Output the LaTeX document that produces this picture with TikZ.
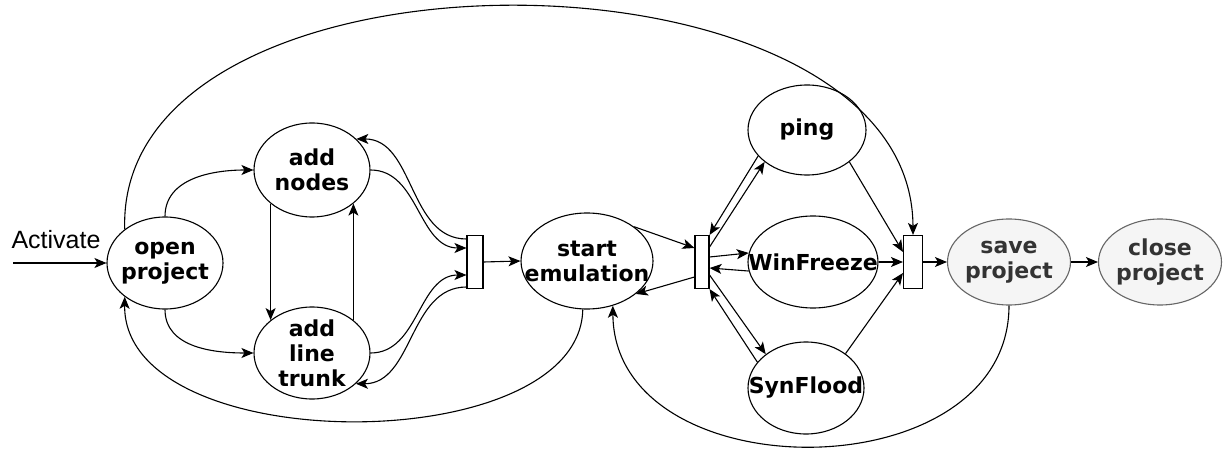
\documentclass[tikz,border=0pt]{standalone}
\usepackage{fontspec}
\usepackage{tikz}
\usepackage{xcolor}
\usetikzlibrary{shapes.geometric,arrows.meta}
\setmainfont{DejaVu Sans}
\newfontfamily\activatefont{Liberation Sans}
\definecolor{save-fill}{HTML}{F5F5F5}
\definecolor{save-draw}{HTML}{666666}
\definecolor{save-text}{HTML}{333333}
\tikzset{
    state-node/.style = {draw, ellipse, line width=1.1pt, inner sep=0pt, minimum width=116pt, minimum height=92pt},
    state-text/.style = {font=\fontsize{22}{25}\selectfont\bfseries, align=center, inner sep=0pt},
    end-node/.style = {state-node, draw=save-draw, fill=save-fill, minimum width=123pt, minimum height=86pt},
    end-text/.style = {state-text, text=save-text},
    bar-node/.style = {draw, rectangle, line width=1.1pt, inner sep=0pt, minimum width=15pt, minimum height=53pt},
    arrow-line/.style = {line width=1.1pt, -{Stealth[length=12pt, width=10pt, inset=3pt]}},
}

\begin{document}
\begin{tikzpicture}[x=1pt, y=-1pt]
\useasboundingbox (0,0) rectangle (1225,454);
% states
\node[state-node, label={[state-text]center:open\\project}] (open) at (165,263) {};
\node[state-node, minimum height=94pt, label={[state-text]center:add\\nodes}] (addn) at (312,170) {};
\node[state-node, label={[state-text]center:add\\line\\trunk}] (addl) at (312,353) {};
\node[state-node, minimum width=132pt, minimum height=96pt, label={[state-text]center:start\\emulation}] (start) at (587,261) {};
\node[state-node, minimum width=118pt, minimum height=90pt, label={[state-text]center:ping}] (ping) at (807,130) {};
\node[state-node, minimum width=130pt, label={[state-text]center:WinFreeze}] (win) at (813,262) {};
\node[state-node, label={[state-text]center:SynFlood}] (syn) at (806,388) {};
\node[end-node, label={[end-text]center:save\\project}] (save) at (1009,262) {};
\node[end-node, label={[end-text]center:close\\project}] (close) at (1160,262) {};
% bars
\node[bar-node, minimum width=16pt] (bar1) at (475,262) {};
\node[bar-node, minimum width=14pt] (bar2) at (702,262) {};
\node[bar-node, minimum width=19pt] (bar3) at (913,262) {};
% entry
\coordinate (activate-start) at (13,263);
\node[font=\activatefont\fontsize{25}{28}\selectfont, inner sep=0pt] (activate) at (56,240) {Activate};
\draw[arrow-line] (activate-start) -- (open.west);
% edges
\draw[arrow-line] (open.north) to[out=90,in=180] (addn.west);
\draw[arrow-line] (open.south) to[out=-90,in=180] (addl.west);
\draw[arrow-line] (addn.south west) -- (addl.north west);
\draw[arrow-line] (addl.north east) -- (addn.south east);
\draw[arrow-line] (addn.east) to[out=0,in=180] ([yshift=14pt]bar1.west);
\draw[arrow-line] ([yshift=23pt]bar1.west) to[out=180,in=0] (addn.35);
\draw[arrow-line] (addl.east) to[out=0,in=180] ([yshift=-13pt]bar1.west);
\draw[arrow-line] ([yshift=-25pt]bar1.west) to[out=180,in=0] (addl.-35);
\draw[arrow-line] (bar1.east) -- (start.west);
\draw[arrow-line] (start.36) -- ([yshift=14pt]bar2.west);
\draw[arrow-line] ([yshift=-15pt]bar2.west) -- (start.-34);
\draw[arrow-line] ([yshift=15pt]bar2.east) -- (ping.217);
\draw[arrow-line] (ping.208) -- (bar2.north east);
\draw[arrow-line] ([yshift=5pt]bar2.east) -- (win.172);
\draw[arrow-line] (win.188) -- ([yshift=-6pt]bar2.east);
\draw[arrow-line] ([yshift=-13pt]bar2.east) -- (syn.140);
\draw[arrow-line] (syn.152) -- (bar2.south east);
\draw[arrow-line] (ping.-37) -- ([yshift=10pt]bar3.west);
\draw[arrow-line] (win.east) -- (bar3.west);
\draw[arrow-line] (syn.41) -- ([yshift=-11pt]bar3.west);
\draw[arrow-line] (bar3.east) -- (save.west);
\draw[arrow-line] (save.east) -- (close.west);
% long loops
\draw[arrow-line] (open.140) .. controls (115,-72) and (912,-66) .. (bar3.north);
\draw[arrow-line] (start.265) .. controls (580,460) and (123,460) .. (open.220);
\draw[arrow-line] (save.south) .. controls (1009,493) and (614,493) .. (start.300);
\end{tikzpicture}
\end{document}
